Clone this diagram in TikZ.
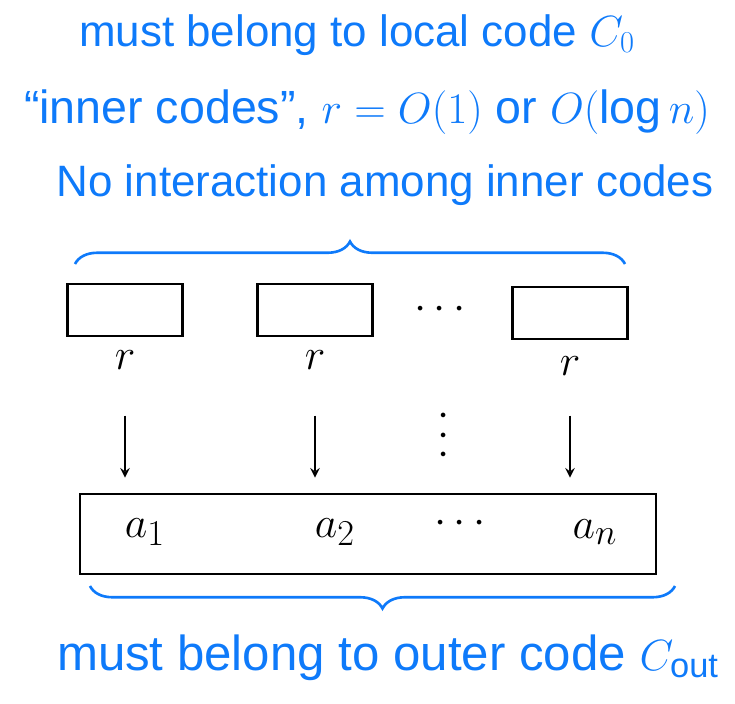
\documentclass[tikz,border=0pt]{standalone}
\usepackage{fontspec}
\setmainfont{Liberation Sans}
\usetikzlibrary{decorations.pathreplacing}
\definecolor{penblue}{RGB}{14,122,250}
\begin{document}
\begin{tikzpicture}
[x=0.02cm,y=-0.02cm,%
  note/.style={text=penblue,font=\fontsize{25}{30}\selectfont},%
  innerbox/.style={draw,line width=1.6pt,minimum width=2.3cm,minimum height=1.04cm},%
  outerbox/.style={draw,line width=1.6pt,minimum width=11.52cm,minimum height=1.6cm},%
  sym/.style={font=\fontsize{30}{36}\selectfont},%
  curly/.style={penblue,line width=1.5pt,decorate,decoration={brace,amplitude=0.45cm}},%
  down/.style={->,line width=1.4pt,>=stealth}]
\useasboundingbox (0,0) rectangle (735,704);
% texts
\node[note] (t1) at (357,35) {must belong to local code $C_0$};
\node[note,font=\fontsize{26.5}{30}\selectfont] (t2) at (367,112) {“inner codes”, $r = O(1)$ or $O(\log n)$};
\node[note] (t3) at (385,185) {No interaction among inner codes};
\node[note,font=\fontsize{28}{32}\selectfont] (t4) at (388,658) {must belong to outer code $C_{\mathrm{out}}$};
% inner codes
\node[innerbox] (b1) at (125,310) {};
\node[innerbox] (b2) at (315,310) {};
\node[innerbox] (bn) at (570,313) {};
\node[sym] (hd) at (440,310) {$\cdots$};
\node[sym] (g1) at (125,360) {$r$};
\node[sym] (g2) at (315,360) {$r$};
\node[sym] (gn) at (570,366) {$r$};
% outer code
\node[outerbox] (big) at (368,534) {};
\node[sym] (a1) at (145,532) {$a_1$};
\node[sym] (a2) at (335,532) {$a_2$};
\node[sym] (ad) at (460,524) {$\cdots$};
\node[sym] (an) at (595,532) {$a_n$};
\node[sym,rotate=90] (vd) at (445,435) {$\cdots$};
% arrows
\draw[down,shorten <=0.8cm,shorten >=0.3cm] (g1) -- (g1 |- big.north);
\draw[down,shorten <=0.8cm,shorten >=0.3cm] (g2) -- (g2 |- big.north);
\draw[down,shorten <=0.68cm,shorten >=0.3cm] (gn) -- (gn |- big.north);
% braces
\draw[curly] (75,264) -- (625,264);
\draw[curly] (675,586) -- (90,586);
\end{tikzpicture}
\end{document}
